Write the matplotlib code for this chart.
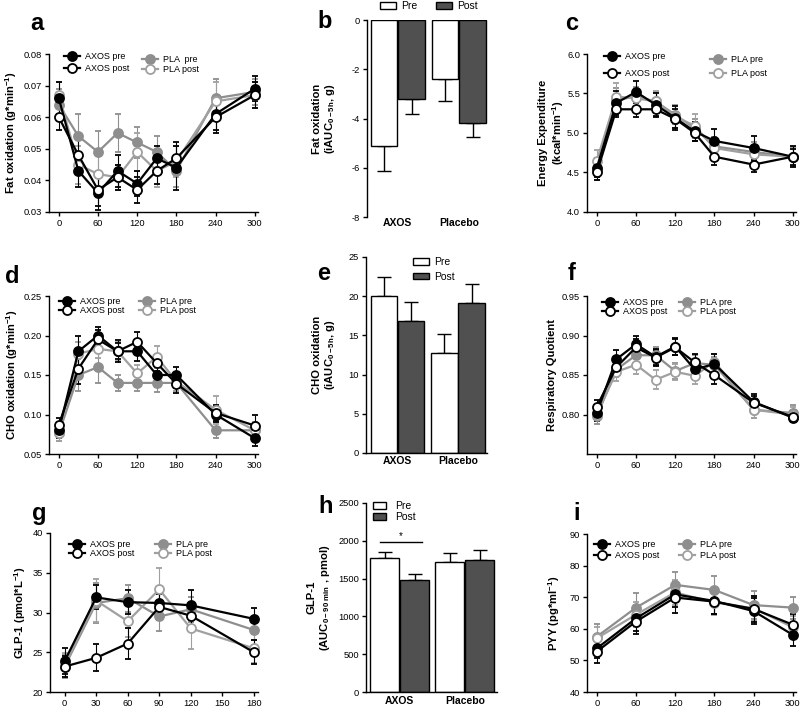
import numpy as np
import matplotlib
matplotlib.use('Agg')
from matplotlib import pyplot as plt
from matplotlib.legend import Legend

plt.rcParams['font.family'] = ['Liberation Sans', 'DejaVu Sans']
plt.rcParams['axes.unicode_minus'] = False
plt.rcParams['mathtext.fontset'] = 'custom'
plt.rcParams['mathtext.rm'] = 'Liberation Sans'
plt.rcParams['mathtext.it'] = 'Liberation Sans:italic'
plt.rcParams['mathtext.bf'] = 'Liberation Sans:bold'
plt.rcParams['axes.linewidth'] = 1.0
plt.rcParams['xtick.major.width'] = 1.0
plt.rcParams['ytick.major.width'] = 1.0
plt.rcParams['xtick.major.size'] = 3
plt.rcParams['ytick.major.size'] = 3

# ---------------- data ----------------
t_long = [0, 30, 60, 90, 120, 150, 180, 240, 300]
t_glp = [0, 30, 60, 90, 120, 180]
t_pyy = [0, 60, 120, 180, 240, 300]

# a: fat oxidation (g*min-1)
fat_axos_pre = [0.066, 0.043, 0.036, 0.043, 0.039, 0.047, 0.044, 0.061, 0.069]
fat_axos_post = [0.060, 0.048, 0.037, 0.041, 0.037, 0.043, 0.047, 0.060, 0.067]
fat_pla_pre = [0.064, 0.054, 0.049, 0.055, 0.052, 0.049, 0.043, 0.066, 0.068]
fat_pla_post = [0.067, 0.045, 0.042, 0.041, 0.049, 0.043, 0.046, 0.065, 0.067]
fat_axos_pre_err = [0.005, 0.005, 0.0055, 0.005, 0.004, 0.004, 0.007, 0.005, 0.004]
fat_axos_post_err = [0.004, 0.006, 0.005, 0.004, 0.004, 0.004, 0.005, 0.005, 0.004]
fat_pla_pre_err = [0.005, 0.007, 0.0065, 0.006, 0.005, 0.005, 0.005, 0.006, 0.004]
fat_pla_post_err = [0.004, 0.006, 0.006, 0.004, 0.006, 0.005, 0.005, 0.006, 0.004]

# c: energy expenditure (kcal*min-1)
ee_axos_pre = [4.56, 5.38, 5.52, 5.36, 5.19, 5.02, 4.90, 4.81, 4.70]
ee_axos_post = [4.50, 5.30, 5.30, 5.30, 5.18, 5.00, 4.70, 4.60, 4.70]
ee_pla_pre = [4.53, 5.42, 5.46, 5.40, 5.23, 5.06, 4.83, 4.76, 4.70]
ee_pla_post = [4.65, 5.46, 5.44, 5.40, 5.21, 5.09, 4.81, 4.73, 4.70]
ee_axos_pre_err = [0.12, 0.15, 0.14, 0.15, 0.15, 0.12, 0.15, 0.15, 0.13]
ee_axos_post_err = [0.10, 0.10, 0.10, 0.10, 0.12, 0.10, 0.10, 0.10, 0.10]
ee_pla_pre_err = [0.12, 0.15, 0.12, 0.12, 0.12, 0.12, 0.12, 0.12, 0.12]
ee_pla_post_err = [0.14, 0.17, 0.12, 0.13, 0.15, 0.15, 0.12, 0.15, 0.12]

# d: CHO oxidation (g*min-1)
cho_axos_pre = [0.080, 0.180, 0.200, 0.180, 0.180, 0.150, 0.150, 0.100, 0.070]
cho_axos_post = [0.087, 0.158, 0.195, 0.180, 0.192, 0.165, 0.139, 0.102, 0.086]
cho_pla_pre = [0.076, 0.150, 0.160, 0.140, 0.140, 0.140, 0.140, 0.080, 0.080]
cho_pla_post = [0.076, 0.177, 0.183, 0.180, 0.152, 0.173, 0.142, 0.106, 0.080]
cho_axos_pre_err = [0.010, 0.020, 0.011, 0.010, 0.012, 0.015, 0.010, 0.010, 0.010]
cho_axos_post_err = [0.008, 0.020, 0.012, 0.014, 0.013, 0.010, 0.012, 0.010, 0.013]
cho_pla_pre_err = [0.010, 0.020, 0.020, 0.010, 0.010, 0.012, 0.010, 0.010, 0.010]
cho_pla_post_err = [0.010, 0.015, 0.012, 0.012, 0.011, 0.014, 0.012, 0.018, 0.010]

# f: respiratory quotient
rq_axos_pre = [0.802, 0.870, 0.889, 0.873, 0.886, 0.857, 0.864, 0.816, 0.796]
rq_axos_post = [0.810, 0.860, 0.885, 0.872, 0.885, 0.866, 0.850, 0.815, 0.797]
rq_pla_pre = [0.798, 0.857, 0.875, 0.875, 0.855, 0.865, 0.863, 0.806, 0.802]
rq_pla_post = [0.800, 0.854, 0.863, 0.844, 0.854, 0.849, 0.867, 0.806, 0.800]
rq_axos_pre_err = [0.010, 0.012, 0.011, 0.010, 0.011, 0.012, 0.012, 0.010, 0.006]
rq_axos_post_err = [0.008, 0.010, 0.010, 0.010, 0.010, 0.010, 0.012, 0.008, 0.006]
rq_pla_pre_err = [0.010, 0.010, 0.010, 0.010, 0.010, 0.010, 0.010, 0.010, 0.010]
rq_pla_post_err = [0.008, 0.012, 0.012, 0.012, 0.010, 0.010, 0.010, 0.010, 0.010]

# g: GLP-1 (pmol*L-1)
glp_axos_pre = [23.9, 31.9, 31.3, 31.2, 30.9, 29.2]
glp_axos_post = [23.2, 24.3, 26.1, 30.7, 29.6, 25.0]
glp_pla_pre = [23.2, 31.2, 31.8, 29.5, 30.4, 27.8]
glp_pla_post = [23.4, 31.5, 28.9, 32.9, 28.0, 25.5]
glp_axos_pre_err = [1.6, 1.5, 1.5, 1.5, 1.9, 1.4]
glp_axos_post_err = [1.3, 1.7, 1.9, 1.6, 1.6, 1.5]
glp_pla_pre_err = [1.5, 2.5, 1.7, 1.8, 1.6, 1.2]
glp_pla_post_err = [1.5, 2.7, 2.0, 2.7, 2.6, 1.8]

# i: PYY (pg*ml-1)
pyy_axos_pre = [53.8, 63.3, 70.9, 68.8, 65.6, 58.1]
pyy_axos_post = [52.8, 62.3, 69.9, 68.6, 66.3, 61.3]
pyy_pla_pre = [57.5, 66.7, 73.9, 72.3, 67.5, 66.7]
pyy_pla_post = [57.0, 64.5, 71.5, 68.3, 66.5, 60.5]
pyy_axos_pre_err = [3.0, 4.0, 4.0, 4.0, 4.0, 3.5]
pyy_axos_post_err = [3.5, 4.0, 5.0, 4.0, 4.0, 3.5]
pyy_pla_pre_err = [4.0, 4.5, 4.0, 4.5, 4.5, 3.5]
pyy_pla_post_err = [3.5, 4.0, 4.0, 4.0, 4.0, 3.5]

# bar panels: [AXOS, Placebo]
groups = ['AXOS', 'Placebo']
fat_auc_pre = [-5.1, -2.4]
fat_auc_pre_err = [1.05, 0.88]
fat_auc_post = [-3.2, -4.2]
fat_auc_post_err = [0.63, 0.54]

cho_auc_pre = [20.0, 12.8]
cho_auc_pre_err = [2.4, 2.4]
cho_auc_post = [16.9, 19.1]
cho_auc_post_err = [2.3, 2.4]

glp_auc_pre = [1770, 1726]
glp_auc_pre_err = [88, 110]
glp_auc_post = [1482, 1748]
glp_auc_post_err = [80, 133]

line_labels = ['AXOS pre', 'AXOS post', 'PLA pre', 'PLA post']

W, H = 800, 707
fig = plt.figure(figsize=(8, 7.07), dpi=100)

GRAY = '#8e8e8e'
GRAY2 = '#a0a0a0'
styles = [
    dict(color='black', mfc='black'),
    dict(color='black', mfc='white'),
    dict(color=GRAY, mfc=GRAY),
    dict(color=GRAY2, mfc='white'),
]


def px_axes(left, top, right, bottom):
    return fig.add_axes([left / W, 1 - bottom / H, (right - left) / W, (bottom - top) / H])


def style_axes(ax):
    ax.spines['top'].set_visible(False)
    ax.spines['right'].set_visible(False)
    ax.tick_params(labelsize=6.7, pad=2)


def put_legend(ax, hs, labels, x_px, y1, y2, fs=6.5, hl=1.7):
    # 每一列单独放一个图例，位置按像素给
    fpx = fs * 100 / 72
    top = y1 - 5.3
    spacing = max((y2 - y1 - 10.4) / fpx, 0.0)
    left = x_px - hl * fpx / 2
    leg = Legend(ax, hs, labels, loc='upper left', bbox_to_anchor=(left / W, 1 - top / H),
                 bbox_transform=fig.transFigure, frameon=False, fontsize=fs,
                 handlelength=hl, handletextpad=0.6, labelspacing=spacing,
                 borderpad=0, borderaxespad=0)
    ax.add_artist(leg)


def line_panel(ax, x, data, errs, xlim, xticks, ylim, yticks, yfmt, ylabel, label_x, leg1, leg2, pla_labels):
    style_axes(ax)
    handles = [None] * 4
    for i in [2, 3, 0, 1]:
        st = styles[i]
        c = ax.errorbar(x, data[i], yerr=errs[i], fmt='-o', color=st['color'], mfc=st['mfc'],
                        mec=st['color'], ms=6.5, mew=1.3, lw=1.6, elinewidth=0.8,
                        capsize=2.5, capthick=0.8, clip_on=False)
        handles[i] = c.lines[0]
    ax.set_xlim(*xlim)
    ax.set_xticks(xticks)
    ax.set_ylim(*ylim)
    ax.set_yticks(yticks)
    ax.set_yticklabels([yfmt % v for v in yticks])
    ax.set_ylabel(ylabel, fontsize=8.1, fontweight='bold')
    ax.yaxis.set_label_coords(label_x, 0.5)
    put_legend(ax, handles[:2], line_labels[:2], *leg1)
    put_legend(ax, handles[2:], pla_labels, *leg2)


def bar_panel(ax, pos, pre, pre_err, post, post_err, width, up, ylim, yticks, ylabel, label_x, xpad, show_bottom):
    style_axes(ax)
    p1 = ax.bar([pos[0], pos[2]], pre, width, color='white', edgecolor='black', lw=1.0, zorder=2)
    p2 = ax.bar([pos[1], pos[3]], post, width, color='#505050', edgecolor='black', lw=1.0, zorder=2)
    z = [0, 0]
    for xs, vals, err in [([pos[0], pos[2]], pre, pre_err), ([pos[1], pos[3]], post, post_err)]:
        yerr = [z, err] if up else [err, z]
        ax.errorbar(xs, vals, yerr=yerr, fmt='none', ecolor='black', elinewidth=1.0,
                    capsize=5, capthick=1.0, zorder=1)
    ax.set_ylim(*ylim)
    ax.set_yticks(yticks)
    ax.set_xticks([(pos[0] + pos[1]) / 2, (pos[2] + pos[3]) / 2])
    ax.set_xticklabels(groups, fontsize=7.5, fontweight='bold')
    ax.tick_params(axis='x', length=0, pad=xpad)
    if not show_bottom:
        ax.spines['bottom'].set_visible(False)
    ax.set_ylabel(ylabel, fontsize=8.1, fontweight='bold', linespacing=1.1)
    ax.yaxis.set_label_coords(label_x, 0.5)
    return p1, p2


def bar_legend(ax, handles, x_px, y_px, ncol, spacing, hl=1.5, tp=0.5, cs=1.7):
    fs = 7.5
    leg = ax.legend(handles, ['Pre', 'Post'], loc='upper left',
                    bbox_to_anchor=(x_px / W, 1 - (y_px - 5.6) / H), bbox_transform=fig.transFigure,
                    ncol=ncol, frameon=False, fontsize=fs, handlelength=hl, handleheight=0.6,
                    handletextpad=tp, columnspacing=cs, labelspacing=spacing,
                    borderpad=0, borderaxespad=0)
    for p in leg.get_patches():
        p.set_linewidth(1.0)


long_ticks = [0, 60, 120, 180, 240, 300]

# a
ax = px_axes(49, 54, 258, 212)
line_panel(ax, t_long, [fat_axos_pre, fat_axos_post, fat_pla_pre, fat_pla_post],
           [fat_axos_pre_err, fat_axos_post_err, fat_pla_pre_err, fat_pla_post_err],
           (-15, 305), long_ticks, (0.03, 0.08), [0.03, 0.04, 0.05, 0.06, 0.07, 0.08], '%.2f',
           'Fat oxidation (g*min$^{\\mathbf{-1}}$)', -0.145,
           (72, 57, 71), (150, 60, 72), ['PLA  pre', 'PLA post'])

# b
ax = px_axes(367, 20, 488, 217)
pb = bar_panel(ax, [0, 1, 2.22, 3.22], fat_auc_pre, fat_auc_pre_err, fat_auc_post, fat_auc_post_err,
               0.97, False, (-8, 0), [0, -2, -4, -6, -8],
               'Fat oxidation\n(iAUC$_{\\mathbf{0-5h}}$, g)', -0.248, 0.5, False)
ax.set_xlim(-0.62, 3.78)
bar_legend(ax, pb, 380, 7, 2, 0.3, hl=1.55, tp=0.5, cs=1.75)

# c
ax = px_axes(587, 54, 796, 212)
line_panel(ax, t_long, [ee_axos_pre, ee_axos_post, ee_pla_pre, ee_pla_post],
           [ee_axos_pre_err, ee_axos_post_err, ee_pla_pre_err, ee_pla_post_err],
           (-15, 305), long_ticks, (4.0, 6.0), [4.0, 4.5, 5.0, 5.5, 6.0], '%.1f',
           'Energy Expenditure\n(kcal*min$^{\\mathbf{-1}}$)', -0.100,
           (612, 57, 76), (718, 60, 76), ['PLA pre', 'PLA post'])

# d
ax = px_axes(49, 296, 258, 454)
line_panel(ax, t_long, [cho_axos_pre, cho_axos_post, cho_pla_pre, cho_pla_post],
           [cho_axos_pre_err, cho_axos_post_err, cho_pla_pre_err, cho_pla_post_err],
           (-15, 305), long_ticks, (0.05, 0.25), [0.05, 0.10, 0.15, 0.20, 0.25], '%.2f',
           'CHO oxidation (g*min$^{\\mathbf{-1}}$)', -0.14,
           (67, 302, 313), (147, 302, 313), ['PLA pre', 'PLA post'])

# e
ax = px_axes(366, 257, 487, 453)
pe = bar_panel(ax, [0, 1, 2.22, 3.22], cho_auc_pre, cho_auc_pre_err, cho_auc_post, cho_auc_post_err,
               0.97, True, (0, 25), [0, 5, 10, 15, 20, 25],
               'CHO oxidation\n(iAUC$_{\\mathbf{0-5h}}$, g)', -0.24, 2, True)
ax.set_xlim(-0.65, 3.78)
bar_legend(ax, pe, 413, 263, 1, 0.4, hl=1.55, tp=0.5)

# f
ax = px_axes(587, 296, 796, 454)
line_panel(ax, t_long, [rq_axos_pre, rq_axos_post, rq_pla_pre, rq_pla_post],
           [rq_axos_pre_err, rq_axos_post_err, rq_pla_pre_err, rq_pla_post_err],
           (-15, 305), long_ticks, (0.75, 0.95), [0.80, 0.85, 0.90, 0.95], '%.2f',
           'Respiratory Quotient', -0.144,
           (610, 303, 314), (687, 303, 314), ['PLA pre', 'PLA post'])

# g
ax = px_axes(50, 533, 258, 692)
line_panel(ax, t_glp, [glp_axos_pre, glp_axos_post, glp_pla_pre, glp_pla_post],
           [glp_axos_pre_err, glp_axos_post_err, glp_pla_pre_err, glp_pla_post_err],
           (-14, 184), [0, 30, 60, 90, 120, 150, 180], (20, 40), [20, 25, 30, 35, 40], '%d',
           'GLP-1 (pmol*L$^{\\mathbf{-1}}$)', -0.106,
           (77, 545, 556), (163, 545, 556), ['PLA pre', 'PLA post'])

# h
ax = px_axes(366, 503, 497, 692)
ph = bar_panel(ax, [0, 1, 2.18, 3.18], glp_auc_pre, glp_auc_pre_err, glp_auc_post, glp_auc_post_err,
               0.97, True, (0, 2500), [0, 500, 1000, 1500, 2000, 2500],
               'GLP-1\n(AUC$_{\\mathbf{0-90\\ min}}$ , pmol)', -0.26, 3, True)
ax.set_xlim(-0.62, 3.75)
bar_legend(ax, ph, 373, 507, 1, 0.1, hl=1.25, tp=0.9)
ax.plot([-0.15, 1.25], [1990, 1990], color='black', lw=1.0)
ax.text(0.55, 1995, '*', ha='center', va='bottom', fontsize=7)

# i
ax = px_axes(587, 534, 796, 692)
line_panel(ax, t_pyy, [pyy_axos_pre, pyy_axos_post, pyy_pla_pre, pyy_pla_post],
           [pyy_axos_pre_err, pyy_axos_post_err, pyy_pla_pre_err, pyy_pla_post_err],
           (-15, 305), long_ticks, (40, 90), [40, 50, 60, 70, 80, 90], '%d',
           'PYY (pg*ml$^{\\mathbf{-1}}$)', -0.12,
           (602, 545, 558), (687, 545, 558), ['PLA pre', 'PLA post'])

# 面板字母
letters = [('a', 30, 30), ('b', 317, 28), ('c', 565, 30),
           ('d', 5, 283), ('e', 317, 280), ('f', 568, 280),
           ('g', 32, 520), ('h', 318, 513), ('i', 573, 520)]
for s, x, y in letters:
    fig.text(x / W, 1 - y / H, s, fontsize=17, fontweight='bold', ha='left', va='baseline')

fig.savefig('out.png', dpi=100)
